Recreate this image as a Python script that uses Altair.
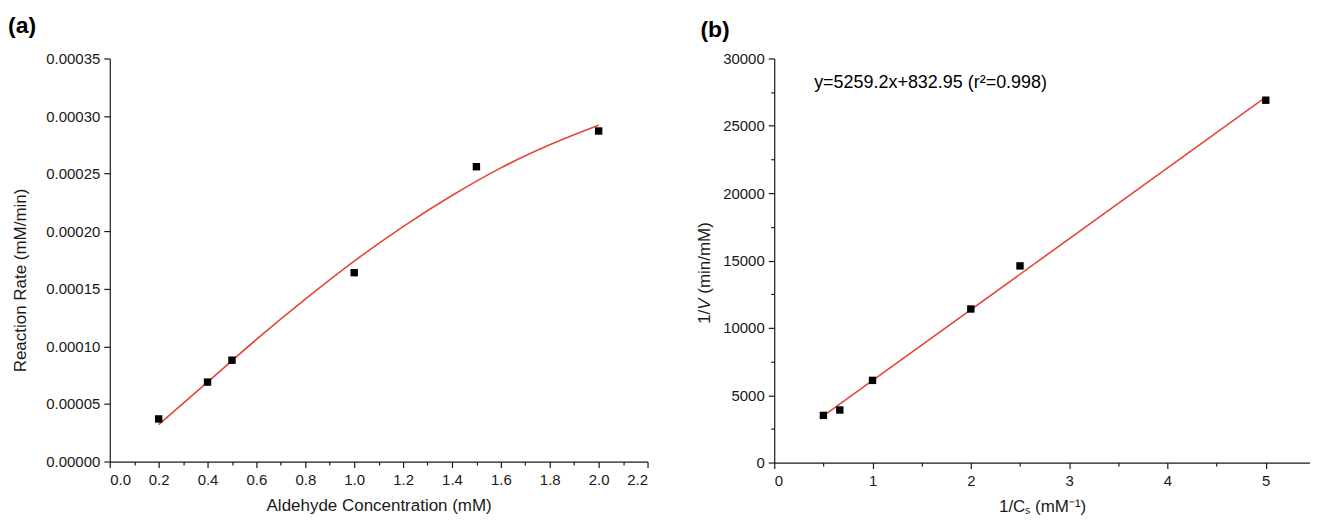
import altair as alt
import pandas as pd

# ---- data ----
a_conc = [0.2, 0.4, 0.5, 1.0, 1.5, 2.0]
a_rate = [0.000037, 0.000069, 0.000088, 0.000164, 0.000256, 0.000287]
a_fit_x = [0.2, 0.4, 0.6, 0.8, 1.0, 1.2, 1.4, 1.6, 1.8, 2.0]
a_fit_y = [0.000032, 0.000069, 0.000106, 0.000141, 0.000174, 0.000204, 0.000231, 0.000255, 0.000275, 0.000292]

b_x = [0.5, 0.667, 1.0, 2.0, 2.5, 5.0]
b_y = [3500, 3900, 6100, 11400, 14600, 26900]
b_fit_x = [0.5, 5.0]
b_fit_y = [3460, 27130]

a_xticks = [0.0, 0.2, 0.4, 0.6, 0.8, 1.0, 1.2, 1.4, 1.6, 1.8, 2.0, 2.2]
a_xminor = [0.1, 0.3, 0.5, 0.7, 0.9, 1.1, 1.3, 1.5, 1.7, 1.9, 2.1]
a_yticks = [0.0, 0.00005, 0.0001, 0.00015, 0.0002, 0.00025, 0.0003, 0.00035]
b_xticks = [0, 1, 2, 3, 4, 5]
b_xminor = [0.5, 1.5, 2.5, 3.5, 4.5]
b_yticks = [0, 5000, 10000, 15000, 20000, 25000, 30000]
b_yminor = [2500, 7500, 12500, 17500, 22500, 27500]

equation = "y=5259.2x+832.95 (r\u00b2=0.998)"
b_ytitle_parts = ["1/", "V", "(min/mM)"]

FONT = "Liberation Sans"
RED = "#e5453a"
INK = "#1a1a1a"
TFS = 17  # axis title font size

W_A, H_A = 539, 404
W_B, H_B = 537, 405

df_a = pd.DataFrame({"c": a_conc, "v": a_rate})
df_afit = pd.DataFrame({"c": a_fit_x, "v": a_fit_y})
df_b = pd.DataFrame({"x": b_x, "y": b_y})
df_bfit = pd.DataFrame({"x": b_fit_x, "y": b_fit_y})
one = df_b.head(1)

ax_common = dict(grid=False, domainColor=INK, tickColor=INK, labelColor=INK,
                 titleColor=INK, labelFont=FONT, titleFont=FONT,
                 labelFontSize=15, titleFontSize=TFS, titleFontWeight="normal",
                 domainWidth=1.2, tickWidth=1.2)
minor_common = dict(labels=False, domain=False, tickSize=3.5, title=None,
                    grid=False, tickColor=INK, tickWidth=1.2)

# ---------- panel (a) ----------
xs_a = alt.Scale(domain=[0, 2.2], nice=False, zero=False)
ys_a = alt.Scale(domain=[0, 0.00035], nice=False)

a_pts = alt.Chart(df_a).mark_square(size=55, color="black", opacity=1).encode(
    x=alt.X("c:Q", scale=xs_a,
            axis=alt.Axis(values=a_xticks, format=".1f", tickSize=6, labelPadding=5,
                          title="Aldehyde Concentration (mM)", titlePadding=10,
                          orient="bottom", **ax_common)),
    y=alt.Y("v:Q", scale=ys_a,
            axis=alt.Axis(values=a_yticks, format=".5f", tickSize=6, labelPadding=4,
                          title="Reaction Rate (mM/min)", titleX=-80, titleY=222,
                          orient="left", **ax_common)),
)
a_line = alt.Chart(df_afit).mark_line(color=RED, strokeWidth=1.6, interpolate="monotone").encode(
    x=alt.X("c:Q", scale=xs_a, axis=None), y=alt.Y("v:Q", scale=ys_a, axis=None))
a_minor = alt.Chart(df_afit).mark_point(opacity=0).encode(
    x=alt.X("c:Q", scale=xs_a,
            axis=alt.Axis(values=a_xminor, orient="bottom", **minor_common)),
    y=alt.Y("v:Q", scale=ys_a, axis=None))
a_lab = alt.Chart(one).mark_text(
    text="(a)", font=FONT, fontSize=23, fontWeight="bold", color="black",
    align="left", baseline="top").encode(x=alt.value(-102), y=alt.value(-44))

panel_a = alt.layer(a_line, a_pts, a_minor, a_lab).resolve_axis(
    x="independent", y="independent").properties(width=W_A, height=H_A)

# ---------- panel (b) ----------
xs_b = alt.Scale(domain=[0, 5.45], nice=False)
ys_b = alt.Scale(domain=[0, 30000], nice=False)

b_pts = alt.Chart(df_b).mark_square(size=55, color="black", opacity=1).encode(
    x=alt.X("x:Q", scale=xs_b,
            axis=alt.Axis(values=b_xticks, format="d", tickSize=6, labelPadding=5,
                          title="1/C\u209b (mM\u207b\u00b9)", titlePadding=10,
                          orient="bottom", **ax_common)),
    y=alt.Y("y:Q", scale=ys_b,
            axis=alt.Axis(values=b_yticks, format="d", tickSize=6, labelPadding=4,
                          title=None, orient="left", **ax_common)),
)
b_line = alt.Chart(df_bfit).mark_line(color=RED, strokeWidth=1.6).encode(
    x=alt.X("x:Q", scale=xs_b, axis=None), y=alt.Y("y:Q", scale=ys_b, axis=None))
b_minor = alt.Chart(df_b).mark_point(opacity=0).encode(
    x=alt.X("x:Q", scale=xs_b,
            axis=alt.Axis(values=b_xminor, orient="bottom", **minor_common)),
    y=alt.Y("y:Q", scale=ys_b,
            axis=alt.Axis(values=b_yminor, orient="left", **minor_common)))
b_lab = alt.Chart(one).mark_text(
    text="(b)", font=FONT, fontSize=23, fontWeight="bold", color="black",
    align="left", baseline="top").encode(x=alt.value(-74), y=alt.value(-40))
b_spacer = alt.Chart(one).mark_text(
    text=" ", font=FONT, fontSize=10, color="white",
    align="left", baseline="top").encode(x=alt.value(-74), y=alt.value(-45))
b_eq = alt.Chart(one).mark_text(
    text=equation, font=FONT, fontSize=18, color="black",
    align="left", baseline="middle").encode(x=alt.value(40), y=alt.value(25))

# rotated y-axis title with italic V (Arial/Liberation metrics)
em = TFS / 1000.0
w_1 = (556 + 278) * em
w_v = 667 * em
w_sp = 278 * em
total = w_1 + w_v + w_sp + (333 + 833 + 222 + 556 + 278 + 833 + 833 + 333) * em
y_start = 215 + total / 2.0
title_starts = [y_start, y_start - w_1, y_start - w_1 - w_v - w_sp]
title_styles = ["normal", "italic", "normal"]
b_title_layers = []
for part, ys, st in zip(b_ytitle_parts, title_starts, title_styles):
    b_title_layers.append(
        alt.Chart(one).mark_text(
            text=part, font=FONT, fontSize=TFS, fontStyle=st, color=INK,
            angle=270, align="left", baseline="bottom").encode(
            x=alt.value(-60), y=alt.value(ys)))

panel_b = alt.layer(b_line, b_pts, b_minor, b_lab, b_spacer, b_eq, *b_title_layers).resolve_axis(
    x="independent", y="independent").properties(width=W_B, height=H_B)

chart = alt.hconcat(panel_a, panel_b, spacing=48).properties(
    padding={"left": 0, "top": 5, "right": 0, "bottom": 0}
).configure_view(stroke=None)

chart.save("out.html", embed_options={"renderer": "svg", "actions": False})
